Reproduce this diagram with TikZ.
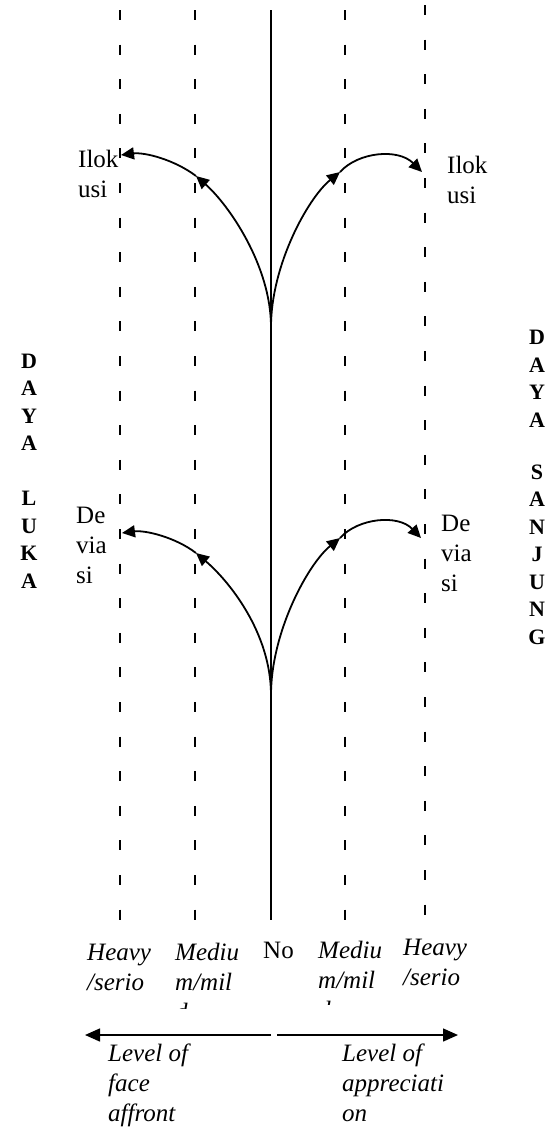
\documentclass[tikz,border=0pt]{standalone}
\usepackage{fontspec}
\setmainfont{Liberation Serif}
\usetikzlibrary{arrows.meta}

\tikzset{
    guide/.style={line width=1.5pt, dash pattern=on 10pt off 24.6pt},
    curve/.style={line width=1.8pt, -{Triangle[length=13pt, width=12pt]}},
    lbl/.style={anchor=base west, inner sep=0pt, align=left, font=\fontsize{25}{30}\selectfont},
    ilbl/.style={lbl, font=\fontsize{25}{30}\selectfont\itshape},
    daya/.style={anchor=base, inner sep=0pt, align=center, font=\fontsize{22}{27.5}\selectfont\bfseries},
    level/.style={line width=1.5pt, -{Triangle[length=15pt, width=13pt]}}
}

\begin{document}
\begin{tikzpicture}[x=1pt, y=-1pt]
    \useasboundingbox (0,0) rectangle (559,1128);

    \coordinate (h1t) at (120,10);   \coordinate (h1b) at (120,920);
    \coordinate (m1t) at (195,10);   \coordinate (m1b) at (195,920);
    \coordinate (m2t) at (345,10);   \coordinate (m2b) at (345,920);
    \coordinate (h2t) at (425,5);    \coordinate (h2b) at (425,920);
    \coordinate (not) at (271,10);   \coordinate (nob) at (271,920);

    \draw[guide] (h1t) -- (h1b);
    \draw[guide] (m1t) -- (m1b);
    \draw[guide] (m2t) -- (m2b);
    \draw[guide] (h2t) -- (h2b);
    \draw[line width=2.2pt] (not) -- (nob);

    \coordinate (ilokJ) at (271,327);
    \coordinate (ilokLm) at (196,176);
    \coordinate (ilokLe) at (121,155);
    \coordinate (ilokRm) at (340,172);
    \coordinate (ilokRe) at (422,172);

    \coordinate (devJ) at (271,695);
    \coordinate (devLm) at (196,553);
    \coordinate (devLe) at (122,533);
    \coordinate (devRm) at (340,538);
    \coordinate (devRe) at (421,538);

    \draw[curve] (ilokJ) .. controls (271,265) and (228,204) .. (ilokLm);
    \draw[curve] (ilokLm) .. controls (175,160) and (145,152) .. (ilokLe);
    \draw[curve] (ilokJ) .. controls (271,265) and (308,198) .. (ilokRm);
    \draw[curve] (ilokRm) .. controls (358,152) and (398,148) .. (ilokRe);

    \draw[curve] (devJ) .. controls (271,632) and (228,580) .. (devLm);
    \draw[curve] (devLm) .. controls (175,537) and (145,530) .. (devLe);
    \draw[curve] (devJ) .. controls (271,632) and (308,564) .. (devRm);
    \draw[curve] (devRm) .. controls (358,518) and (398,514) .. (devRe);

    \node[lbl] (ilokL) at (78,197) {Ilok\\usi};
    \node[lbl] (ilokR) at (447,203) {Ilok\\usi};
    \node[lbl] (deviaL) at (76,583) {De\\via\\si};
    \node[lbl] (deviaR) at (441,591) {De\\via\\si};

    \node[daya] (luka) at (29,588) {D\\A\\Y\\A\\[27.5pt]L\\U\\K\\A};
    \node[daya] (sanjung) at (537,644) {D\\A\\Y\\A\\[24.5pt]S\\A\\N\\J\\U\\N\\G};

    \node[ilbl] (heavyL) at (87,990) {Heavy\\/serio};
    \begin{scope}
        \clip (150,920) rectangle (260,1008);
        \node[ilbl] (mediumL) at (175,1020) {Mediu\\m/mil\\d};
    \end{scope}
    \node[lbl] (no) at (263,958) {No};
    \begin{scope}
        \clip (300,920) rectangle (381,1004);
        \node[ilbl] (mediumR) at (318,1018) {Mediu\\m/mil\\d};
    \end{scope}
    \node[ilbl] (heavyR) at (403,985) {Heavy\\/serio};

    \coordinate (affS) at (271,1035);
    \coordinate (affE) at (85,1035);
    \coordinate (appS) at (277,1035);
    \coordinate (appE) at (458,1035);
    \draw[level] (affS) -- (affE);
    \draw[level] (appS) -- (appE);

    \node[ilbl] (affront) at (108,1121) {Level of\\face\\affront};
    \node[ilbl] (apprec) at (342,1121) {Level of\\appreciati\\on};
\end{tikzpicture}
\end{document}
